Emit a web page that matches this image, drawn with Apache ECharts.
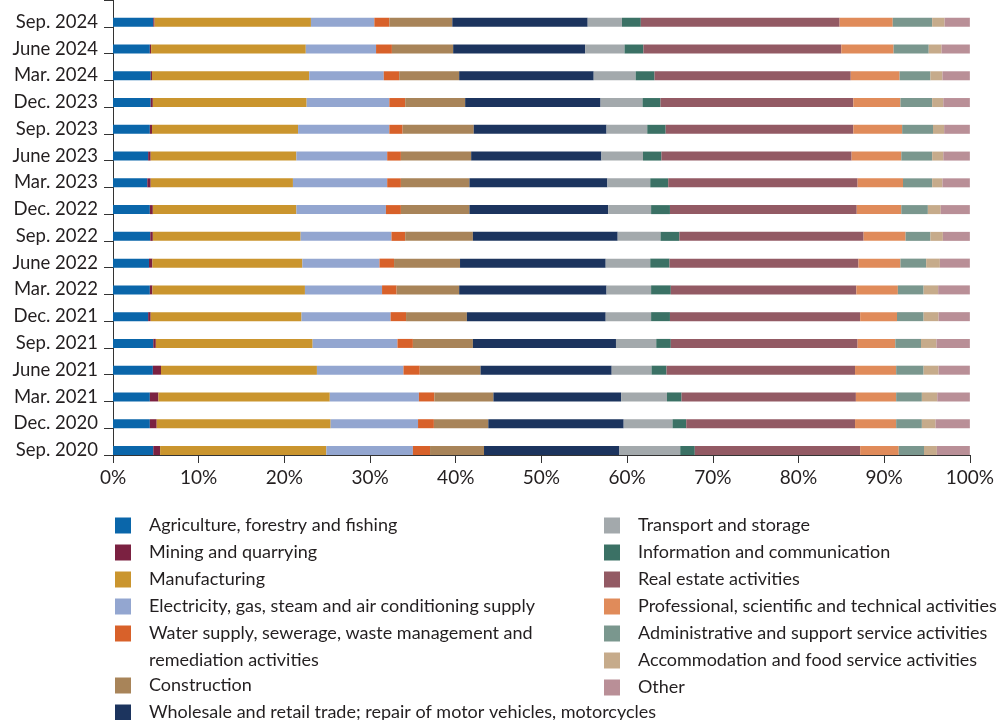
<!DOCTYPE html>
<html><head><meta charset="utf-8">
<script src="https://cdn.jsdelivr.net/npm/echarts@6/dist/echarts.min.js"></script>
<style>html,body{margin:0;padding:0;background:#fff}#c{width:997px;height:720px}</style>
</head><body><div id="c"></div>
<script>
// Categories top to bottom
const categories = ['Sep. 2024','June 2024','Mar. 2024','Dec. 2023','Sep. 2023','June 2023','Mar. 2023','Dec. 2022','Sep. 2022','June 2022','Mar. 2022','Dec. 2021','Sep. 2021','June 2021','Mar. 2021','Dec. 2020','Sep. 2020'];
const xTicks = [0,10,20,30,40,50,60,70,80,90,100];

const agriculture   = [4.7,4.3,4.4,4.4,4.3,4.1,4.0,4.3,4.35,4.2,4.3,4.1,4.7,4.65,4.3,4.3,4.7];
const mining        = [0.15,0.15,0.15,0.25,0.25,0.3,0.4,0.35,0.3,0.4,0.3,0.3,0.3,0.95,1.0,0.8,0.8];
const manufacturing = [18.25,18.05,18.35,17.95,17.05,17.0,16.6,16.75,17.25,17.5,17.8,17.6,18.3,18.2,20.0,20.3,19.4];
const electricity   = [7.4,8.2,8.7,9.65,10.65,10.6,11.0,10.45,10.6,9.0,9.0,10.4,9.9,10.1,10.4,10.2,10.1];
const water         = [1.75,1.85,1.8,1.85,1.55,1.6,1.6,1.75,1.6,1.7,1.7,1.8,1.8,1.9,1.8,1.85,2.0];
const construction  = [7.35,7.15,7.0,7.0,8.3,8.2,8.0,8.0,7.9,7.7,7.3,7.1,7.0,7.1,6.9,6.35,6.3];
const wholesale     = [15.8,15.4,15.7,15.8,15.5,15.2,16.1,16.2,16.9,17.0,17.2,16.2,16.7,15.3,14.9,15.8,15.8];
const transport     = [4.0,4.6,4.9,4.9,4.75,4.85,5.0,5.0,5.0,5.2,5.2,5.3,4.7,4.65,5.35,5.7,7.1];
const information   = [2.2,2.2,2.2,2.1,2.15,2.15,2.1,2.2,2.2,2.25,2.3,2.2,1.7,1.75,1.7,1.6,1.7];
const realEstate    = [23.2,23.1,22.9,22.5,21.9,22.2,22.1,21.8,21.5,22.05,21.65,22.2,21.8,22.0,20.35,19.7,19.3];
const professional  = [6.2,6.1,5.7,5.5,5.7,5.8,5.3,5.2,4.9,4.9,4.85,4.3,4.4,4.8,4.7,4.8,4.5];
const administrative= [4.6,4.1,3.6,3.7,3.6,3.6,3.4,3.1,2.9,3.0,3.0,3.1,3.0,3.2,3.0,3.0,2.95];
const accommodation = [1.45,1.5,1.4,1.3,1.3,1.3,1.2,1.5,1.45,1.6,1.7,1.75,1.8,1.75,1.8,1.6,1.5];
const other         = [2.95,3.3,3.2,3.1,3.0,3.1,3.2,3.4,3.15,3.5,3.7,3.65,3.9,3.65,3.8,4.0,3.85];

const names = [
  'Agriculture, forestry and fishing',
  'Mining and quarrying',
  'Manufacturing',
  'Electricity, gas, steam and air conditioning supply',
  'Water supply, sewerage, waste management and remediation activities',
  'Construction',
  'Wholesale and retail trade; repair of motor vehicles, motorcycles',
  'Transport and storage',
  'Information and communication',
  'Real estate activities',
  'Professional, scientific and technical activities',
  'Administrative and support service activities',
  'Accommodation and food service activities',
  'Other'
];
const values = [agriculture,mining,manufacturing,electricity,water,construction,wholesale,transport,information,realEstate,professional,administrative,accommodation,other];
const colors = ['#0a66aa','#7b2141','#ca952e','#93a6d0','#d8612a','#a88459','#1c345e','#a3a9ac','#3b7165','#935a64','#e08b5a','#7a978e','#c6ab8b','#b98f97'];

const FONT = 'Lato';
const TXT = '#231f20';
const LEG_FS = 18;

const series = [{
  type: 'bar', name: '_pad', stack: 'pad', data: [], barWidth: 9, barGap: '97%', silent: true
}].concat(names.map((n, i) => ({
  type: 'bar', name: n, stack: 'total', data: values[i], barWidth: 9, barGap: '97%',
  itemStyle: { color: colors[i] }, emphasis: { disabled: true }
})));

const legendText = { fontFamily: FONT, fontSize: LEG_FS, color: TXT, lineHeight: 27, padding: [0,0,0,13] };
const legendBase = {
  type: 'plain', orient: 'vertical', icon: 'rect', itemWidth: 16, itemHeight: 16, itemGap: 0, padding: 0,
  selectedMode: false, textStyle: legendText, height: 200,
  formatter: n => n.startsWith('Water supply') ? 'Water supply, sewerage, waste management and' : n
};

const chart = echarts.init(document.getElementById('c'), null, { renderer: 'canvas' });
chart.setOption({
  animation: false,
  textStyle: { fontFamily: FONT },
  grid: { left: 113, right: 26, top: 0, height: 455, containLabel: false },
  xAxis: {
    type: 'value', min: xTicks[0], max: xTicks[xTicks.length-1], interval: 10,
    axisLine: { show: true, lineStyle: { color: '#333', width: 1 } },
    axisTick: { show: true, length: 8, lineStyle: { color: '#333' } },
    splitLine: { show: false },
    axisLabel: { formatter: '{value}%', fontSize: 19, color: TXT, margin: 13, fontFamily: FONT }
  },
  yAxis: {
    type: 'category', data: categories, inverse: true,
    axisLine: { show: true, lineStyle: { color: '#333', width: 1 } },
    axisTick: { show: true, length: 9, lineStyle: { color: '#333' } },
    axisLabel: { fontSize: 18.5, color: TXT, margin: 15, verticalAlign: 'top', lineHeight: 17, fontFamily: FONT }
  },
  legend: [
    Object.assign({}, legendBase, { left: 115, top: 512, data: names.slice(0,5) }),
    Object.assign({}, legendBase, { left: 115, top: 672, data: names.slice(5,7) }),
    Object.assign({}, legendBase, { left: 604, top: 512, data: names.slice(7) })
  ],
  graphic: [{
    type: 'text', left: 149, top: 647,
    style: { text: 'remediation activities', fontFamily: FONT, fontSize: LEG_FS, fill: TXT, lineHeight: 27 }
  }],
  series: series
});
</script>
</body></html>
